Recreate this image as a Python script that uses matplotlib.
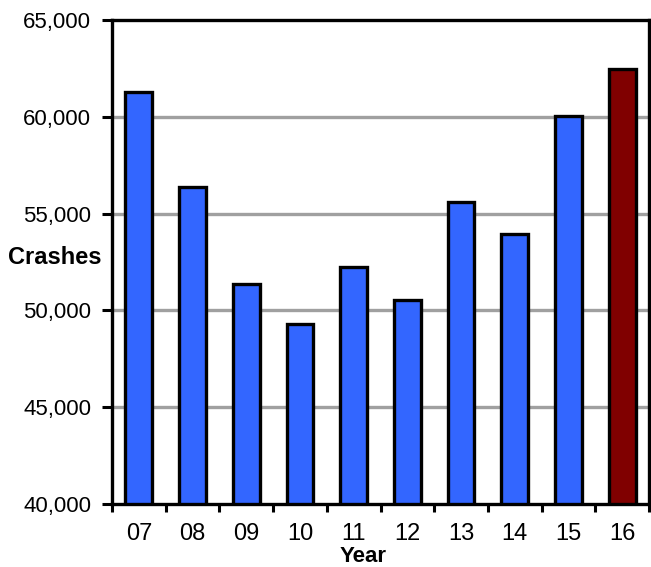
import numpy as np
import matplotlib.pyplot as plt
from matplotlib.ticker import FuncFormatter, FixedLocator

# Crashes per year
years = ["07", "08", "09", "10", "11", "12", "13", "14", "15", "16"]
crashes = [61300, 56350, 51360, 49320, 52220, 50540, 55600, 53970, 60050, 62470]
bar_colors = ["#3366FF"] * 9 + ["#800000"]
y_ticks = [40000, 45000, 50000, 55000, 60000, 65000]

plt.rcParams['font.family'] = ['Liberation Sans', 'DejaVu Sans']

fig = plt.figure(figsize=(6.51, 5.67), dpi=100)
ax = fig.add_axes([112/651, 1-504/567, 537/651, 484/567])

x = np.arange(len(years))
ax.bar(x, crashes, width=0.5, color=bar_colors, edgecolor='black', linewidth=2.4, zorder=3)

ax.set_ylim(40000, 65000)
ax.set_xlim(-0.5, len(years)-0.5)
ax.set_yticks(y_ticks)
ax.yaxis.set_major_formatter(FuncFormatter(lambda v, p: f"{int(v):,}"))
# grid lines, skip the top one (frame is there)
for v in y_ticks[1:-1]:
    ax.axhline(v, color='#A0A0A0', linewidth=2.4, zorder=1)

# x ticks at category boundaries, labels at centers
ax.xaxis.set_major_locator(FixedLocator(np.arange(len(years)+1)-0.5))
ax.xaxis.set_minor_locator(FixedLocator(x))
ax.set_xticklabels([])
ax.set_xticklabels(years, minor=True)
ax.tick_params(axis='x', which='major', length=6, width=2.2, direction='out')
ax.tick_params(axis='x', which='minor', length=0, pad=14, labelsize=17)
ax.tick_params(axis='y', length=7, width=2.2, direction='out', pad=8, labelsize=16)

for s in ax.spines.values():
    s.set_linewidth(2.4)
    s.set_zorder(4)

fig.text(8/651, 1-258/567, "Crashes", fontsize=17, fontweight='bold', ha='left', va='center')
fig.text(363/651, 1-556/567, "Year", fontsize=16, fontweight='bold', ha='center', va='center')

fig.savefig("out.png", dpi=100)
